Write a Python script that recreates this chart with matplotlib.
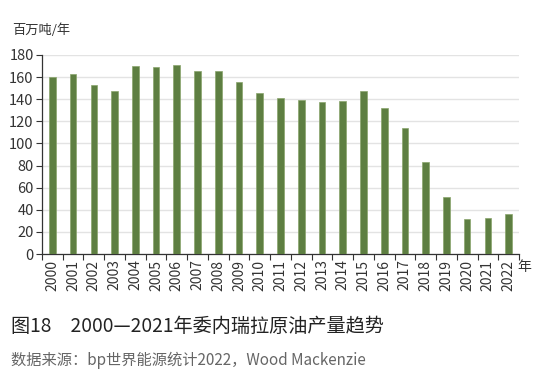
import matplotlib
matplotlib.use("Agg")
import matplotlib.pyplot as plt
import numpy as np

plt.rcParams['font.family'] = ['Noto Sans CJK SC', 'DejaVu Sans']

years = [str(y) for y in range(2000, 2023)]
production = [160, 163, 152.5, 147.5, 170, 169, 171, 165.5, 165.5, 155.5, 146,
              141, 139.5, 137.5, 138.5, 147.5, 132.5, 114, 83, 51.5, 32, 33, 36.5]
yticks = [0, 20, 40, 60, 80, 100, 120, 140, 160, 180]

fig = plt.figure(figsize=(5.4, 3.89), dpi=100)
ax = fig.add_axes([42/540, 1-254/389, (519-42)/540, (254-55)/389])

x = np.arange(len(years))
ax.bar(x, production, width=0.32, color='#5e7f42', edgecolor='#8aa56c', linewidth=0.5, zorder=3)

ax.set_xlim(-0.5, len(years)-0.5)
ax.set_ylim(0, 180)
ax.set_yticks(yticks)
ax.yaxis.grid(True, color='#e3e3e3', linewidth=1.0, zorder=0)
ax.set_xticks(x)
ax.set_xticklabels(years, rotation=90, fontsize=10, color='#333333')
ax.set_xticks(np.arange(-0.5, len(years)), minor=True)
ax.tick_params(axis='x', which='major', length=0, pad=4)
ax.tick_params(axis='x', which='minor', length=4, width=0.8, color='#333333', direction='out')
ax.tick_params(axis='y', length=4, width=0.8, color='#333333', labelsize=10.5, labelcolor='#333333', pad=2)
for s in ['top', 'right']:
    ax.spines[s].set_visible(False)
for s in ['left', 'bottom']:
    ax.spines[s].set_color('#333333')
    ax.spines[s].set_linewidth(0.9)

fig.text(12/540, 1-30/389, '百万吨/年', fontsize=9.5, color='#333333', va='center', ha='left')
fig.text(517/540, 1-267/389, '年', fontsize=10, color='#333333', va='center', ha='left')
fig.text(11/540, 1-326/389, '图18　2000—2021年委内瑞拉原油产量趋势', fontsize=13.8, color='#222222', va='center', ha='left')
fig.text(11/540, 1-360/389, '数据来源：bp世界能源统计2022，Wood Mackenzie', fontsize=11, color='#666666', va='center', ha='left')

fig.savefig('out.png', dpi=100)
